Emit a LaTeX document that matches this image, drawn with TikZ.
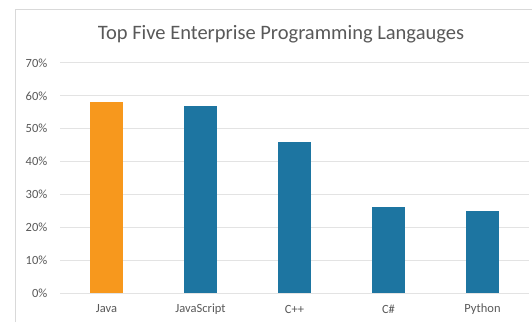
\documentclass[tikz,border=0pt]{standalone}
\usepackage{fontspec}
\setmainfont{Carlito}
\definecolor{txtgray}{HTML}{595959}
\definecolor{gridgray}{HTML}{E3E3E3}
\definecolor{framegray}{HTML}{D9D9D9}
\definecolor{javaorange}{HTML}{F7981D}
\definecolor{barblue}{HTML}{1D75A1}
\tikzset{
  gridline/.style={draw=gridgray, line width=1pt},
  ylabel/.style={anchor=east, text=txtgray, font=\fontsize{12.5}{14}\selectfont, inner sep=0pt},
  xlabel/.style={anchor=center, text=txtgray, font=\fontsize{12.5}{14}\selectfont, inner sep=0pt},
  bar/.style={draw=none, minimum width=33pt, inner sep=0pt, anchor=south},
}
\begin{document}
\begin{tikzpicture}[x=1pt,y=-1pt]
  \useasboundingbox (0,0) rectangle (532,322);
  \fill[white] (0,0) rectangle (532,322);
  % chart frame (top and left edges visible)
  \draw[framegray, line width=0.8pt] (15,322) -- (15,9) -- (532,9);
  % title
  \node[text=txtgray, font=\fontsize{20.5}{24}\selectfont, inner sep=0pt] (title) at (281,34) {Top Five Enterprise Programming Langauges};
  % horizontal grid and percentage labels
  \foreach \v in {0,10,...,70} {
    \pgfmathsetmacro{\yy}{293-\v*3.286}
    \draw[gridline] (60,\yy) -- (529,\yy);
    \node[ylabel] (y\v) at (47.5,\yy) {\v\%};
  }
  % bars
  \foreach \nm/\cx/\val/\col in {java/106.5/58/javaorange, js/200.5/57/barblue, cpp/294.5/46/barblue, cs/388.5/26/barblue, py/482.5/25/barblue} {
    \pgfmathsetmacro{\hh}{\val*3.286}
    \node[bar, fill=\col, minimum height=\hh pt] (\nm) at (\cx,293) {};
  }
  % category labels
  \node[xlabel] (ljava) at (106.5,309) {Java};
  \node[xlabel] (ljs) at (200.5,309) {JavaScript};
  \node[xlabel] (lcpp) at (294.5,309) {C++};
  \node[xlabel] (lcs) at (388.5,309) {C\#};
  \node[xlabel] (lpy) at (482.5,309) {Python};
\end{tikzpicture}
\end{document}
